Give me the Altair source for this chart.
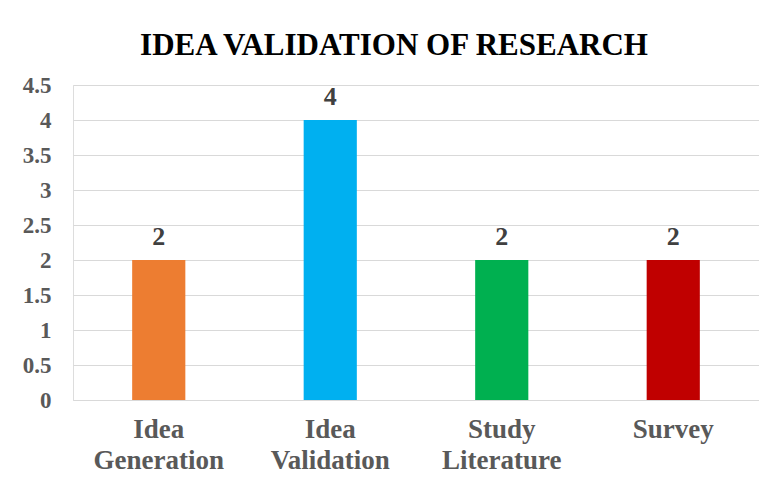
import altair as alt
import pandas as pd

categories = ["Idea Generation", "Idea Validation", "Study Literature", "Survey"]
values = [2, 4, 2, 2]
colors = ["#ED7D31", "#00B0F0", "#00B050", "#C00000"]
y_ticks = [0, 0.5, 1, 1.5, 2, 2.5, 3, 3.5, 4, 4.5]

df = pd.DataFrame({"category": categories, "value": values})

FONT = "Liberation Serif"

base = alt.Chart(df).encode(
    x=alt.X(
        "category:N",
        sort=categories,
        title=None,
        scale=alt.Scale(paddingInner=0.69, paddingOuter=0.345),
        axis=alt.Axis(
            labelAngle=0,
            labelFont=FONT,
            labelFontSize=27,
            labelFontWeight="bold",
            labelColor="#595959",
            labelPadding=16,
            labelLineHeight=31,
            labelBaseline="top",
            labelExpr="split(datum.label, ' ')",
            ticks=False,
            grid=False,
            domain=True,
            domainColor="#d9d9d9",
            domainWidth=1,
        ),
    ),
    y=alt.Y(
        "value:Q",
        title=None,
        scale=alt.Scale(domain=[0, 4.5], nice=False),
        axis=alt.Axis(
            values=y_ticks,
            format="~g",
            labelFont=FONT,
            labelFontSize=23,
            labelFontWeight="bold",
            labelColor="#595959",
            labelPadding=22,
            labelOverlap=False,
            labelFlush=False,
            ticks=False,
            domain=False,
            grid=True,
            gridColor="#d9d9d9",
            gridWidth=1,
        ),
    ),
)

bars = base.mark_bar().encode(
    color=alt.Color("category:N", scale=alt.Scale(domain=categories, range=colors), legend=None),
)

labels = base.mark_text(
    font=FONT, fontSize=26, fontWeight="bold", color="#404040", baseline="alphabetic", dy=-15
).encode(
    text=alt.Text("value:Q"),
)

chart = (
    alt.layer(bars, labels)
    .properties(
        width=686,
        height=315,
        autosize=alt.AutoSizeParams(type="none"),
        padding={"left": 65, "top": 77, "right": 0, "bottom": 78},
        title=alt.TitleParams(
            "IDEA VALIDATION OF RESEARCH",
            font=FONT,
            fontSize=31,
            fontWeight="bold",
            color="#000000",
            anchor="middle",
            dx=-22,
            offset=12,
        ),
    )
    .configure_view(strokeWidth=0, stroke="transparent")
    .configure(background="white")
)

chart.save("out.html", embed_options={"renderer": "svg", "actions": False})
